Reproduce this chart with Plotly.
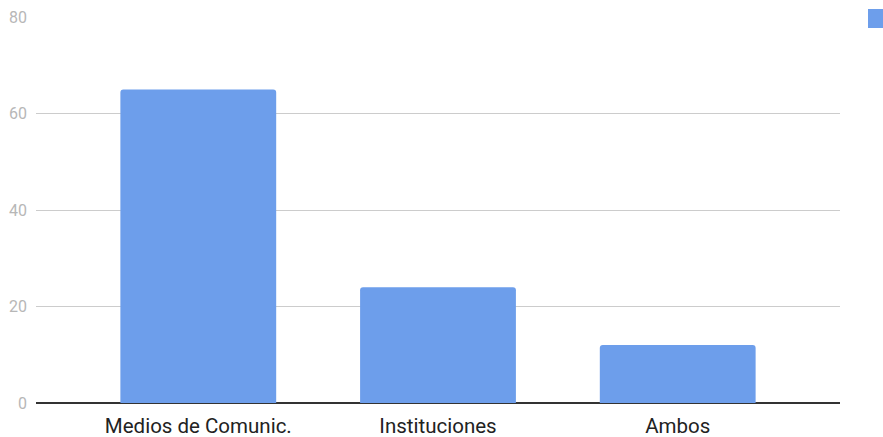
import plotly.graph_objects as go

categories = ["Medios de Comunic.", "Instituciones", "Ambos"]
values = [65, 24, 12]
y_ticks = [0, 20, 40, 60, 80]

fig = go.Figure()
fig.add_trace(go.Bar(
    x=categories, y=values, width=0.65,
    marker=dict(color="#6d9eeb", line=dict(width=0)),
    name="Respuestas", showlegend=False,
))

fig.update_layout(
    width=883, height=437,
    margin=dict(l=36, r=43, t=17, b=34, autoexpand=False),
    paper_bgcolor="white", plot_bgcolor="white",
    barcornerradius=3,
    font=dict(family="Roboto", color="#222222"),
    xaxis=dict(range=[-0.677, 2.677], showgrid=False, showline=False,
               ticks="", tickfont=dict(size=20.5, color="#222222"),
               ticklabelstandoff=8),
    yaxis=dict(range=[0, 80], tickvals=y_ticks, showgrid=True,
               gridcolor="#cccccc", gridwidth=1, zeroline=True,
               zerolinecolor="#333333", zerolinewidth=1.5,
               tickfont=dict(size=16, color="#b7b7b7"),
               ticks="", ticklabelstandoff=8, showline=False),
    shapes=[dict(type="rect", xref="paper", yref="paper",
                 x0=(868 - 36) / 804, x1=(890 - 36) / 804,
                 y0=(403 - 28) / 386, y1=(403 - 9) / 386,
                 fillcolor="#6d9eeb", line=dict(width=0))],
)

fig.write_html("out.html")
